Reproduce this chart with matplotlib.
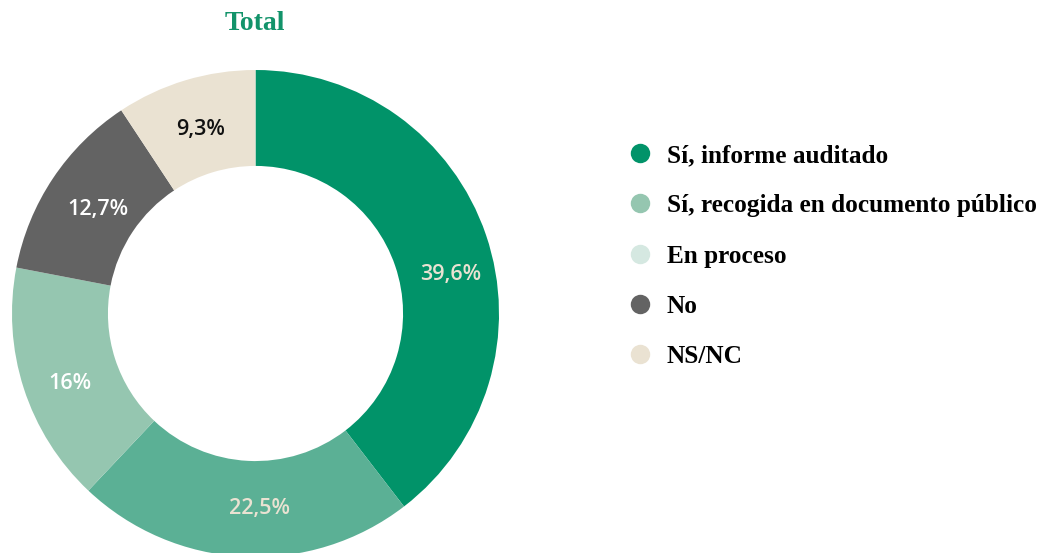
import matplotlib
matplotlib.use("Agg")
import matplotlib.pyplot as plt
from matplotlib.lines import Line2D

# datos
valores = [39.6, 22.5, 16, 12.7, 9.3]
etiquetas_valor = ["39,6%", "22,5%", "16%", "12,7%", "9,3%"]
colores_sector = ["#019369", "#5bb095", "#95c6b0", "#636363", "#eae2d2"]
colores_texto = ["#eae2d2", "#eae2d2", "#ffffff", "#ffffff", "#111111"]

categorias = ["Sí, informe auditado", "Sí, recogida en documento público",
              "En proceso", "No", "NS/NC"]
colores_leyenda = ["#019369", "#95c6b0", "#d5e8e1", "#636363", "#eae2d2"]

fig = plt.figure(figsize=(10.46, 5.53), dpi=100)

# eje del donut, centro en (255, 314) px, radio 243 px
ax = fig.add_axes([12 / 1046, -4 / 553, 487 / 1046, 487 / 553])

wedges, textos = ax.pie(valores, colors=colores_sector, startangle=90,
                        counterclock=False, radius=1,
                        wedgeprops=dict(width=0.394, linewidth=0),
                        labels=etiquetas_valor, labeldistance=0.803,
                        textprops=dict(fontsize=15.5, fontweight="semibold",
                                       family="Open Sans"))
ax.set_xlim(-1, 1)
ax.set_ylim(-1, 1)
ax.set_aspect("equal")
ax.axis("off")
for w in wedges:
    w.set_clip_on(False)

# pequeño ajuste de las etiquetas (en puntos) como en el original
ajuste = [(7, -17), (10, 0), (0, -7), (4, -3), (1, -2)]
for t, c, (dx, dy) in zip(textos, colores_texto, ajuste):
    t.set_color(c)
    t.set_ha("center")
    t.set_va("center")
    t.set_clip_on(False)
    ax.annotate(t.get_text(), xy=t.get_position(), xytext=(dx, dy),
                textcoords="offset points", ha="center", va="center",
                color=c, fontsize=15.5, fontweight="semibold",
                family="Open Sans", annotation_clip=False)
    t.set_visible(False)

fig.text(255 / 1046, 1 - 23 / 553, "Total", ha="center", va="center",
         fontsize=20, fontweight="bold", family="Liberation Serif",
         color="#12936a")

handles = [Line2D([], [], marker="o", linestyle="none", markersize=14,
                  markerfacecolor=c, markeredgewidth=0) for c in colores_leyenda]
fig.legend(handles, categorias, loc="upper left",
           bbox_to_anchor=(627 / 1046, 1 - 144 / 553),
           frameon=False, handletextpad=0.58, labelspacing=1.08,
           handlelength=1.0, borderaxespad=0, borderpad=0,
           prop=dict(family="Liberation Serif", weight="bold", size=18.2))

fig.savefig("out.png", dpi=100, facecolor="white")
